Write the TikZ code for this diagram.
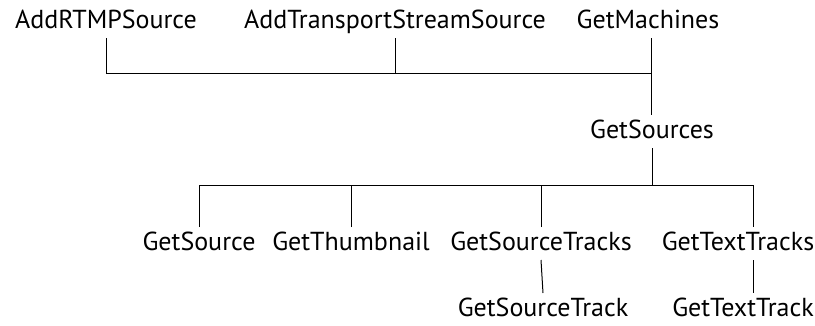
\documentclass[tikz,border=0pt]{standalone}
\usepackage{fontspec}
\setmainfont{PT Sans}
\begin{document}
\begin{tikzpicture}[x=1pt,y=-1pt,
  lbl/.style={inner sep=0pt, text height=18pt, text depth=5pt, outer ysep=5pt, anchor=base, font=\fontsize{26}{30}\selectfont},
  conn/.style={draw=black, line width=1pt}]
\useasboundingbox (0,0) rectangle (815,325);
\node[lbl] (rtmp) at (106,28) {AddRTMPSource};
\node[lbl] (ts) at (395,28) {AddTransportStreamSource};
\node[lbl] (mach) at (648,28) {GetMachines};
\node[lbl] (srcs) at (652,138) {GetSources};
\node[lbl] (src) at (199,250) {GetSource};
\node[lbl] (thumb) at (351,250) {GetThumbnail};
\node[lbl] (strk) at (541,250) {GetSourceTracks};
\node[lbl] (ttrk) at (738,250) {GetTextTracks};
\node[lbl] (st) at (543,316) {GetSourceTrack};
\node[lbl] (tt) at (743,316) {GetTextTrack};
\coordinate (j1) at (651,73);
\coordinate (j2) at (652,185);
\coordinate (tx) at (753,0);
\draw[conn] (rtmp.south) |- (j1);
\draw[conn] (ts.south) -- (ts.south |- j1);
\draw[conn] (j1 |- mach.south) -- (j1 |- srcs.north);
\draw[conn] (srcs.south) -- (j2);
\draw[conn] (src.north) |- (tx |- j2) -- (tx |- ttrk.north);
\draw[conn] (thumb.north) -- (thumb.north |- j2);
\draw[conn] (strk.north) -- (strk.north |- j2);
\draw[conn] (strk.south) -- (st.north);
\draw[conn] (tx |- ttrk.south) -- (tx |- tt.north);
\end{tikzpicture}
\end{document}
